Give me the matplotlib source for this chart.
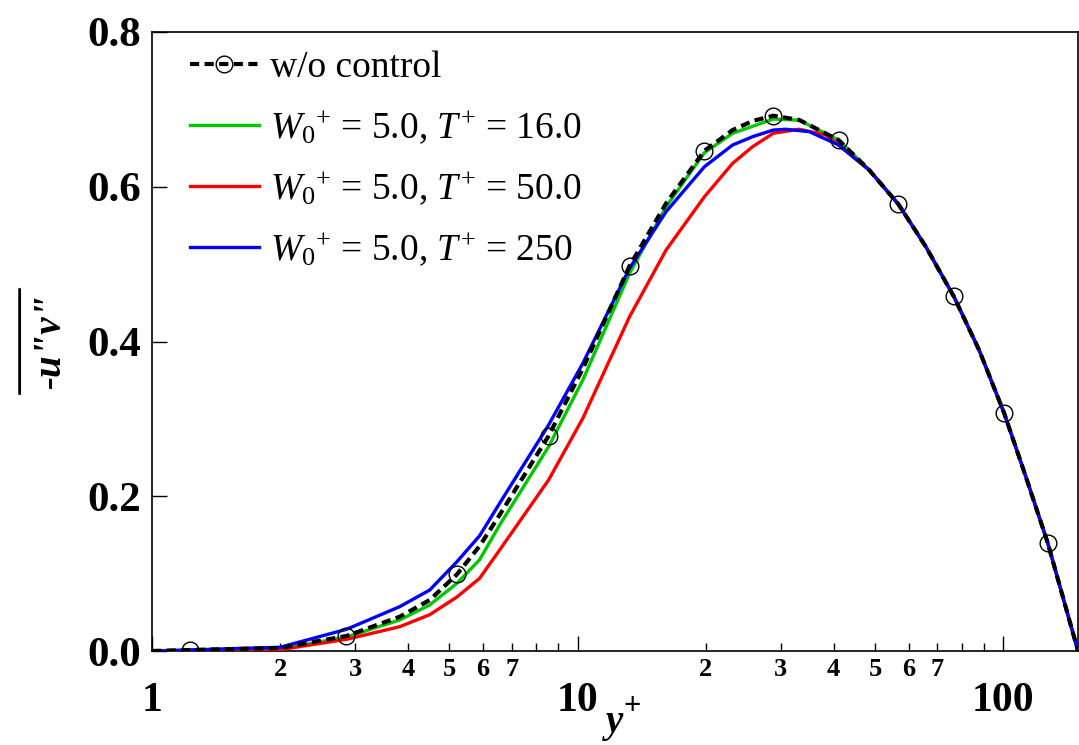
import matplotlib
matplotlib.use("Agg")
import matplotlib.pyplot as plt

plt.rcParams['font.family'] = ['Liberation Serif', 'DejaVu Serif']
plt.rcParams['mathtext.fontset'] = 'custom'
plt.rcParams['mathtext.rm'] = 'Liberation Serif'
plt.rcParams['mathtext.it'] = 'Liberation Serif:italic'
plt.rcParams['mathtext.bf'] = 'Liberation Serif:bold'

# w/o control (baseline), circles drawn at every marked index
base_x = [1.0, 1.228, 1.998, 2.864, 3.821, 4.494, 5.208, 5.888, 6.560, 8.550,
          10.29, 13.25, 16.15, 19.87, 23.15, 25.79, 28.85, 33.20, 41.06, 48.45,
          56.78, 65.85, 76.61, 87.83, 100.5, 113.1, 127.3, 150.0]
base_y = [0.0, 0.0013, 0.0039, 0.0194, 0.0443, 0.0659, 0.0991, 0.1357, 0.1758, 0.2779,
          0.3650, 0.4976, 0.5786, 0.6466, 0.6733, 0.6850, 0.6918, 0.6863, 0.6604, 0.6217,
          0.5773, 0.5225, 0.4582, 0.3890, 0.3080, 0.2253, 0.1400, 0.0]
base_marks = [1, 3, 6, 9, 11, 13, 16, 18, 20, 22, 24, 26]

# outer region where all cases collapse on the baseline
outer_x = [48.45, 56.78, 65.85, 76.61, 87.83, 100.5, 113.1, 127.3, 150.0]
outer_y = [0.6217, 0.5773, 0.5225, 0.4582, 0.3890, 0.3080, 0.2253, 0.1400, 0.0]

# W0+ = 5.0, T+ = 16.0
t16_x = [1.0, 1.998, 2.864, 3.821, 4.494, 5.208, 5.888, 6.560, 8.550, 10.29,
         13.25, 16.15, 19.87, 23.15, 28.85, 33.20, 41.06] + outer_x
t16_y = [0.0, 0.0026, 0.0181, 0.0401, 0.0595, 0.0875, 0.1180, 0.1628, 0.2640, 0.3502,
         0.4881, 0.5742, 0.6440, 0.6691, 0.6875, 0.6860, 0.6604] + outer_y

# W0+ = 5.0, T+ = 50.0
t50_x = [1.0, 1.998, 2.864, 3.821, 4.494, 5.208, 5.888, 6.560, 8.550, 10.29,
         13.25, 16.15, 19.87, 23.15, 25.79, 28.85, 33.20, 38.36] + outer_x
t50_y = [0.0, 0.0017, 0.0151, 0.0314, 0.0469, 0.0698, 0.0940, 0.1305, 0.2210, 0.3007,
         0.4320, 0.5183, 0.5871, 0.6303, 0.6518, 0.6691, 0.6743, 0.6669] + outer_y

# W0+ = 5.0, T+ = 250
t250_x = [1.0, 1.998, 2.864, 3.821, 4.494, 5.208, 5.888, 6.560, 8.550, 10.29,
          13.25, 16.15, 19.87, 23.15, 25.79, 28.85, 30.90, 35.04, 41.06] + outer_x
t250_y = [0.0, 0.0048, 0.0280, 0.0573, 0.0788, 0.1154, 0.1490, 0.1909, 0.2921, 0.3718,
          0.4946, 0.5678, 0.6259, 0.6540, 0.6647, 0.6733, 0.6743, 0.6712, 0.6540] + outer_y

labels = ['w/o control',
          r'$W_0{}^{+}$ = 5.0, $T^{+}$ = 16.0',
          r'$W_0{}^{+}$ = 5.0, $T^{+}$ = 50.0',
          r'$W_0{}^{+}$ = 5.0, $T^{+}$ = 250']

major_ticks = [1, 10, 100]
minor_ticks = [2, 3, 4, 5, 6, 7, 8, 9, 20, 30, 40, 50, 60, 70, 80, 90]
minor_labels = ['2', '3', '4', '5', '6', '7', '', '',
                '2', '3', '4', '5', '6', '7', '', '']
y_ticks = [0.0, 0.2, 0.4, 0.6, 0.8]

fig = plt.figure(figsize=(10.79, 7.45), dpi=100)
ax = fig.add_axes([152 / 1079, 1 - 651 / 745, 926 / 1079, 619 / 745])

ax.plot(base_x, base_y, color='black', lw=3, dashes=(2.2, 1.3),
        marker='o', markevery=base_marks, ms=12, mfc='none', mec='black',
        mew=1, label=labels[0], zorder=5)
ax.plot(t16_x, t16_y, color='#00c800', lw=2.4, label=labels[1], zorder=2)
ax.plot(t50_x, t50_y, color='#ff0000', lw=2.4, label=labels[2], zorder=3)
ax.plot(t250_x, t250_y, color='#0000ff', lw=2.4, label=labels[3], zorder=4)

ax.set_xscale('log')
ax.set_xlim(1, 150)
ax.set_ylim(0, 0.8)

ax.set_xticks(major_ticks, labels=['1', '10', '100'])
ax.set_xticks(minor_ticks, labels=minor_labels, minor=True)
ax.set_yticks(y_ticks, labels=['%.1f' % v for v in y_ticks])

ax.tick_params(axis='x', which='major', direction='in', length=11, width=1,
               pad=22, labelsize=30)
ax.tick_params(axis='x', which='minor', direction='in', length=6, width=1,
               pad=5, labelsize=19)
ax.tick_params(axis='y', which='major', direction='in', length=11, width=1,
               pad=8, labelsize=31)
ax.tick_params(axis='y', which='minor', left=False)
for lbl in ax.get_xticklabels(which='both') + ax.get_yticklabels():
    lbl.set_fontweight('bold')
for sp in ax.spines.values():
    sp.set_linewidth(1.2)

# x label: bold italic y with a bold + superscript
xl = ax.set_xlabel('y', fontsize=28, fontweight='bold', fontstyle='italic')
ax.xaxis.set_label_coords(0.5, -0.086)
ax.annotate('+', xy=(1.0, 0.55), xycoords=xl, fontsize=22, fontweight='bold',
            ha='left', va='bottom')

# y label: bold italic -u"v" with an overline
yl = ax.set_ylabel('-u"v"', fontsize=28, fontweight='bold', fontstyle='italic')
ax.yaxis.set_label_coords(-0.089, 0.5)
ax.annotate('', xy=(-0.35, -0.05), xycoords=yl, xytext=(-0.35, 1.05),
            textcoords=yl,
            arrowprops=dict(arrowstyle='-', lw=2, color='black',
                            shrinkA=0, shrinkB=0))

ax.legend(loc='upper left', frameon=False, fontsize=27, handlelength=1.85,
          handletextpad=0.3, labelspacing=0.62, borderaxespad=0.3,
          bbox_to_anchor=(0.0124, 1.012))

fig.savefig('out.png', dpi=100)
